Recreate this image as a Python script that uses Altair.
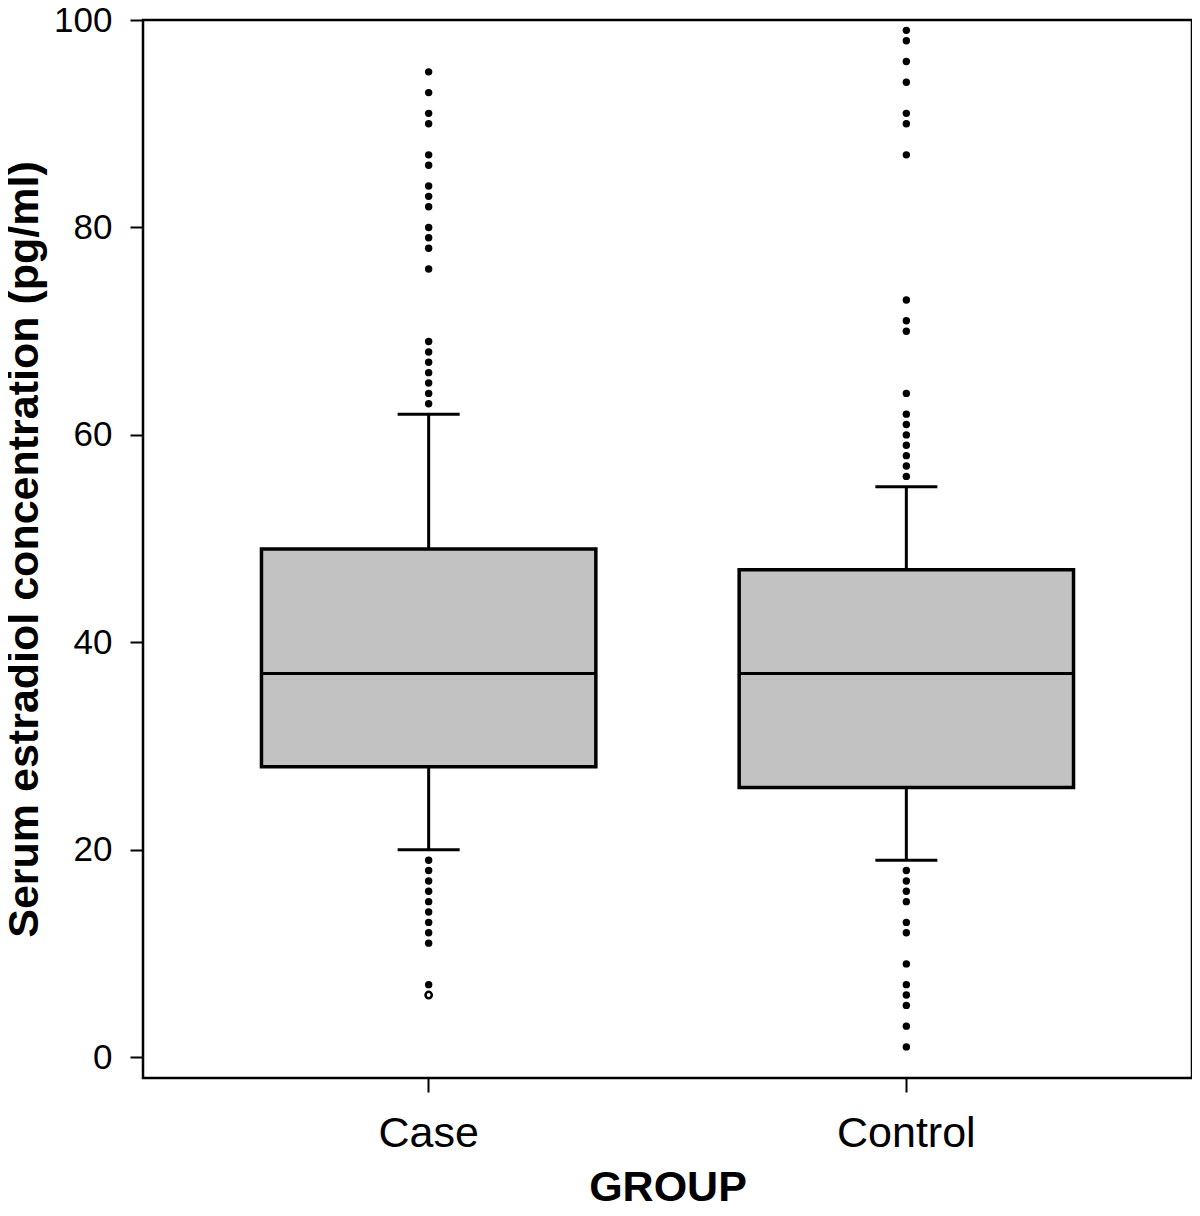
import altair as alt
import pandas as pd

groups = ["Case", "Control"]
q1 = [28, 26]
median = [37, 37]
q3 = [49, 47]
whisk_lo = [20, 19]
whisk_hi = [62, 55]

case_outliers = [95, 93, 91, 90, 87, 86, 84, 83, 82, 80, 79, 78, 76,
                 69, 68, 67, 66, 65, 64, 63,
                 19, 18, 17, 16, 15, 14, 13, 12, 11, 7]
control_outliers = [99, 98, 96, 94, 91, 90, 87, 73, 71, 70,
                    64, 62, 61, 60, 59, 58, 57, 56,
                    18, 17, 16, 15, 13, 12, 9, 7, 6, 5, 3, 1]
open_outliers_group = ["Case"]
open_outliers_value = [6]

FONT = "Liberation Sans"

stats = pd.DataFrame({"group": groups, "q1": q1, "median": median, "q3": q3,
                      "lo": whisk_lo, "hi": whisk_hi})
pts = pd.DataFrame({"group": ["Case"] * len(case_outliers) + ["Control"] * len(control_outliers),
                    "value": case_outliers + control_outliers})
open_pts = pd.DataFrame({"group": open_outliers_group, "value": open_outliers_value})

xscale = alt.Scale(domain=groups, paddingInner=0.3, paddingOuter=0.248)
yscale = alt.Scale(domain=[-2, 100], nice=False, zero=False)

x = alt.X("group:N", scale=xscale, sort=groups,
          axis=alt.Axis(title="GROUP", labelAngle=0, labelFontSize=43, titleFontSize=43,
                        titleFontWeight="bold", labelFont=FONT, titleFont=FONT,
                        tickSize=14, tickWidth=2, tickColor="black", domain=False,
                        labelPadding=20, titlePadding=11, labelColor="black", titleColor="black"))
yaxis = alt.Axis(title="Serum estradiol concentration (pg/ml)", values=[0, 20, 40, 60, 80, 100],
                 labelFontSize=35, titleFontSize=43, titleFontWeight="bold", labelFont=FONT,
                 titleFont=FONT, tickSize=13, tickWidth=2, tickColor="black", domain=False,
                 grid=False, labelPadding=18, titlePadding=7, labelColor="black", titleColor="black")

base = alt.Chart(stats)

whisk = base.mark_rule(color="black", strokeWidth=3, opacity=1).encode(
    x=x, y=alt.Y("lo:Q", scale=yscale, axis=yaxis), y2="hi:Q")
caps_lo = base.mark_tick(color="black", size=62, thickness=3, opacity=1).encode(
    x=x, y=alt.Y("lo:Q", scale=yscale))
caps_hi = base.mark_tick(color="black", size=62, thickness=3, opacity=1).encode(
    x=x, y=alt.Y("hi:Q", scale=yscale))
box = base.mark_bar(fill="#c2c2c2", stroke="black", strokeWidth=3.5, opacity=1).encode(
    x=x, y=alt.Y("q1:Q", scale=yscale), y2="q3:Q")
med = base.mark_tick(color="black", size=336, thickness=3, opacity=1).encode(
    x=x, y=alt.Y("median:Q", scale=yscale))
points = alt.Chart(pts).mark_circle(color="black", size=55, opacity=1).encode(
    x=x, y=alt.Y("value:Q", scale=yscale))
open_points = alt.Chart(open_pts).mark_point(color="black", size=40, strokeWidth=2.5, opacity=1,
                                             filled=False).encode(
    x=x, y=alt.Y("value:Q", scale=yscale))

chart = alt.layer(whisk, caps_lo, caps_hi, box, med, points, open_points).properties(
    width=1049, height=1058,
    padding={"left": 135, "top": 12, "right": 0, "bottom": 128},
    autosize=alt.AutoSizeParams(type="none"),
).configure(background="white", view=alt.ViewConfig(stroke="black", strokeWidth=2.5))

chart.save("out.html", embed_options={"renderer": "svg", "actions": False})
